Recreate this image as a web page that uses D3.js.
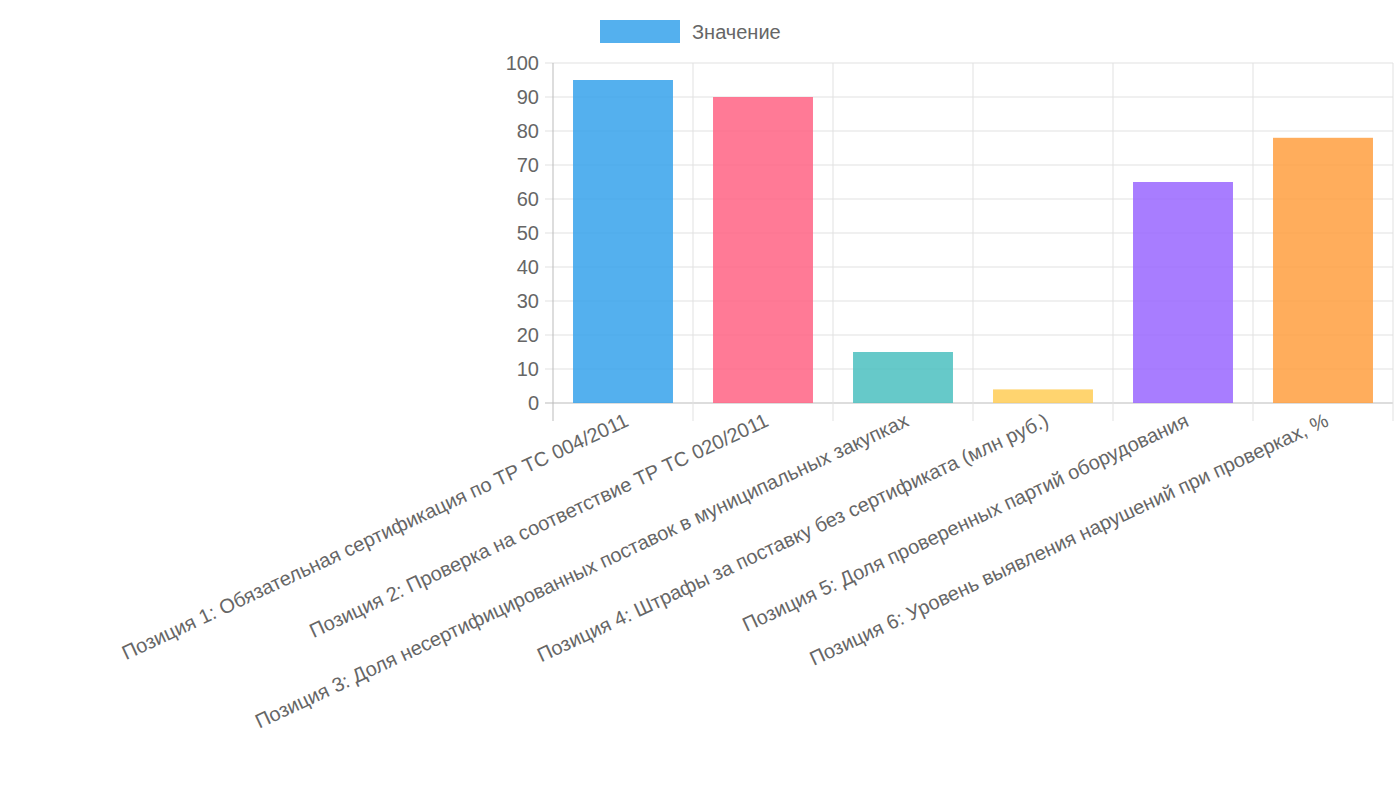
<!DOCTYPE html>
<html><head><meta charset="utf-8">
<script src="https://cdn.jsdelivr.net/npm/d3@7"></script>
<style>body{margin:0;background:#fff}svg{font-family:"Liberation Sans",Arial,sans-serif}</style>
</head><body>
<svg id="chart" width="1400" height="800"></svg>
<script>
const categories = [
  "Позиция 1: Обязательная сертификация по ТР ТС 004/2011",
  "Позиция 2: Проверка на соответствие ТР ТС 020/2011",
  "Позиция 3: Доля несертифицированных поставок в муниципальных закупках",
  "Позиция 4: Штрафы за поставку без сертификата (млн руб.)",
  "Позиция 5: Доля проверенных партий оборудования",
  "Позиция 6: Уровень выявления нарушений при проверках, %"
];
const values = [95, 90, 15, 4, 65, 78];
const colors = ["rgba(54,162,235,0.85)", "rgba(255,99,132,0.85)", "rgba(75,192,192,0.85)",
  "rgba(255,205,86,0.85)", "rgba(153,102,255,0.85)", "rgba(255,159,64,0.85)"];
const yTicks = d3.range(0, 101, 10);

const svg = d3.select("#chart");
const plotLeft = 553, plotRight = 1393, plotTop = 63, plotBottom = 403;
const x = d3.scaleBand().domain(categories).range([plotLeft, plotRight]).paddingInner(0.286).paddingOuter(0.143);
const xEdge = d3.scaleLinear().domain([0, categories.length]).range([plotLeft, plotRight]);
const y = d3.scaleLinear().domain([0, 100]).range([plotBottom, plotTop]);

// grid
svg.append("g").selectAll("line").data(yTicks).join("line")
  .attr("x1", plotLeft - 8).attr("x2", plotRight).attr("y1", d => y(d)).attr("y2", d => y(d))
  .attr("stroke", d => d === 0 ? "#bbb" : "#e1e1e1").attr("stroke-width", 1);
svg.append("g").selectAll("line").data(d3.range(categories.length + 1)).join("line")
  .attr("x1", d => xEdge(d)).attr("x2", d => xEdge(d)).attr("y1", plotTop).attr("y2", plotBottom + 18)
  .attr("stroke", d => d === 0 ? "#bbb" : "#e1e1e1");

// y labels
svg.append("g").selectAll("text").data(yTicks).join("text")
  .attr("x", plotLeft - 14).attr("y", d => y(d)).attr("dy", "0.35em")
  .attr("text-anchor", "end").attr("fill", "#666").attr("font-size", 20).text(d => d);

// bars
svg.append("g").selectAll("rect").data(values).join("rect")
  .attr("x", (d, i) => x(categories[i])).attr("width", x.bandwidth())
  .attr("y", d => y(d)).attr("height", d => y(0) - y(d))
  .attr("fill", (d, i) => colors[i]);

// x labels
svg.append("g").selectAll("text").data(categories).join("text")
  .attr("transform", d => `translate(${x(d) + x.bandwidth() / 2 + 4},${plotBottom + 16}) rotate(-25)`)
  .attr("text-anchor", "end").attr("dy", "0.35em")
  .attr("fill", "#666").attr("font-size", 20).text(d => d);

// legend
svg.append("rect").attr("x", 600).attr("y", 20).attr("width", 80).attr("height", 23).attr("fill", colors[0]);
svg.append("text").attr("x", 692).attr("y", 32).attr("dy", "0.35em")
  .attr("fill", "#666").attr("font-size", 20).text("Значение");
</script>
</body></html>
